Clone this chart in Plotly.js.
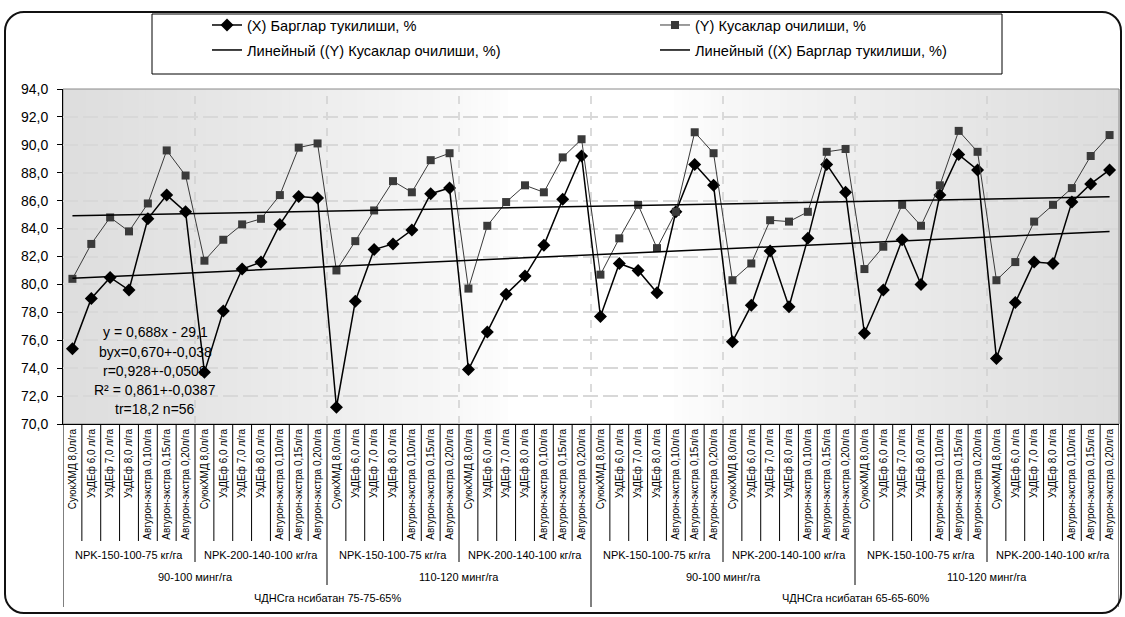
<!DOCTYPE html>
<html>
<head>
<meta charset="utf-8">
<script src="https://cdn.plot.ly/plotly-3.0.1.min.js"></script>
<style>
  html, body { margin: 0; padding: 0; background: #fff; }
  #wrap { position: relative; width: 1125px; height: 617px; overflow: hidden; }
  #frame { position: absolute; left: 4px; top: 11px; width: 1118px; height: 603px;
           box-sizing: border-box; border: 2px solid #111; border-radius: 20px; }
  #chart { position: absolute; left: 0; top: 0; width: 1125px; height: 617px; }
</style>
</head>
<body>
<div id="wrap">
  <div id="frame"></div>
  <div id="chart"></div>
</div>
<script>
// Treatments repeated inside every NPK block
const treatments = [
  'СуюкХМД 8,0л/га',
  'УзДЕф 6,0 л/га',
  'УзДЕф 7,0 л/га',
  'УзДЕф 8,0 л/га',
  'Авгурон-экстра 0,10л/га',
  'Авгурон-экстра 0,15л/га',
  'Авгурон-экстра 0,20л/га'
];
const npkLabels = [
  'NPK-150-100-75 кг/га', 'NPK-200-140-100 кг/га',
  'NPK-150-100-75 кг/га', 'NPK-200-140-100 кг/га',
  'NPK-150-100-75 кг/га', 'NPK-200-140-100 кг/га',
  'NPK-150-100-75 кг/га', 'NPK-200-140-100 кг/га'
];
const densityLabels = ['90-100 минг/га', '110-120 минг/га', '90-100 минг/га', '110-120 минг/га'];
const ratioLabels = ['ЧДНСга нсибатан 75-75-65%', 'ЧДНСга нсибатан 65-65-60%'];

// (X) Барглар тукилиши, %
const leafFall = [
  75.4, 79.0, 80.5, 79.6, 84.7, 86.4, 85.2,
  73.7, 78.1, 81.1, 81.6, 84.3, 86.3, 86.2,
  71.2, 78.8, 82.5, 82.9, 83.9, 86.5, 86.9,
  73.9, 76.6, 79.3, 80.6, 82.8, 86.1, 89.2,
  77.7, 81.5, 81.0, 79.4, 85.2, 88.6, 87.1,
  75.9, 78.5, 82.4, 78.4, 83.3, 88.6, 86.6,
  76.5, 79.6, 83.2, 80.0, 86.4, 89.3, 88.2,
  74.7, 78.7, 81.6, 81.5, 85.9, 87.2, 88.2
];
// (Y) Кусаклар очилиши, %
const bollOpening = [
  80.4, 82.9, 84.8, 83.8, 85.8, 89.6, 87.8,
  81.7, 83.2, 84.3, 84.7, 86.4, 89.8, 90.1,
  81.0, 83.1, 85.3, 87.4, 86.6, 88.9, 89.4,
  79.7, 84.2, 85.9, 87.1, 86.6, 89.1, 90.4,
  80.7, 83.3, 85.7, 82.6, 85.2, 90.9, 89.4,
  80.3, 81.5, 84.6, 84.5, 85.2, 89.5, 89.7,
  81.1, 82.7, 85.7, 84.2, 87.1, 91.0, 89.5,
  80.3, 81.6, 84.5, 85.7, 86.9, 89.2, 90.7
];
const statLines = [
  'y = 0,688x - 29,1',
  'byx=0,670+-0,038',
  'r=0,928+-0,0508',
  'R² = 0,861+-0,0387',
  'tr=18,2 n=56'
];

const n = leafFall.length;
const idx = leafFall.map((_, i) => i);
const tickText = idx.map(i => treatments[i % treatments.length]);

// least-squares linear trend over the point index
function linearTrend(ys) {
  const m = ys.length;
  const mx = (m - 1) / 2;
  const my = ys.reduce((a, b) => a + b, 0) / m;
  let sxy = 0, sxx = 0;
  ys.forEach((y, i) => { sxy += (i - mx) * (y - my); sxx += (i - mx) * (i - mx); });
  const slope = sxy / sxx;
  const icpt = my - slope * mx;
  return { x: [0, m - 1], y: [icpt, icpt + slope * (m - 1)] };
}
const trendY = linearTrend(bollOpening);
const trendX = linearTrend(leafFall);

const FONT = 'Liberation Sans, Arial, sans-serif';
const NARROW = 'Liberation Sans Narrow, Arial Narrow, Liberation Sans, sans-serif';

const traces = [
  { x: idx, y: leafFall, type: 'scatter', mode: 'lines+markers',
    name: '(X) Барглар тукилиши, %', legend: 'legend', legendgroup: 'a',
    line: { color: '#000', width: 1.5 },
    marker: { symbol: 'diamond', size: 10, color: '#000' } },
  { x: idx, y: bollOpening, type: 'scatter', mode: 'lines+markers',
    name: '(Y) Кусаклар очилиши, %', legend: 'legend2', legendgroup: 'b',
    line: { color: '#3a3a3a', width: 1 },
    marker: { symbol: 'square', size: 8, color: '#3a3a3a' } },
  { x: trendY.x, y: trendY.y, type: 'scatter', mode: 'lines',
    name: 'Линейный ((Y) Кусаклар очилиши, %)', legend: 'legend', legendgroup: 'c',
    line: { color: '#000', width: 1.5 } },
  { x: trendX.x, y: trendX.y, type: 'scatter', mode: 'lines',
    name: 'Линейный ((X) Барглар тукилиши, %)', legend: 'legend2', legendgroup: 'd',
    line: { color: '#000', width: 1.5 } }
];

// plot area geometry in pixels
const M = { l: 63, r: 6, t: 89, b: 193 };
const plotH = 617 - M.t - M.b;
const plotW = 1125 - M.l - M.r;
const py = p => (617 - M.b - p) / plotH;   // pixel row -> paper y
const px = p => (p - M.l) / plotW;          // pixel column -> paper x

const shapes = [];
// grey - white - grey horizontal shading of the plot area
const STRIPS = 140;
for (let s = 0; s < STRIPS; s++) {
  const t = (s + 0.5) / STRIPS;
  const d = Math.abs(t - 0.5) * 2;
  const k = Math.min(1, Math.max(0, (d - 0.15) / 0.85));
  const c = Math.round(255 - 34 * Math.pow(k, 0.75));
  shapes.push({ type: 'rect', xref: 'paper', yref: 'paper',
    x0: s / STRIPS, x1: (s + 1) / STRIPS + 0.001, y0: 0, y1: 1,
    fillcolor: `rgb(${c},${c},${c})`, line: { width: 0 }, layer: 'below' });
}
// plot frame
shapes.push({ type: 'rect', xref: 'paper', yref: 'paper', x0: 0, x1: 1, y0: 0, y1: 1,
  line: { color: '#8a8a8a', width: 1 }, layer: 'below' });
// dashed separators between NPK blocks
for (let k = 7; k < n; k += 7) {
  shapes.push({ type: 'line', xref: 'x', yref: 'paper', x0: k - 0.5, x1: k - 0.5, y0: 0, y1: 1,
    line: { color: '#cfcfcf', width: 1.5, dash: '8px,8px' }, layer: 'below' });
}
// category table lines under the axis
for (let k = 0; k <= n; k++) {
  let bottom = 541;
  if (k % 7 === 0) bottom = 562;
  if (k % 14 === 0) bottom = 585;
  if (k % 28 === 0) bottom = 607;
  shapes.push({ type: 'line', xref: 'x', yref: 'paper', x0: k - 0.5, x1: k - 0.5,
    y0: 0, y1: py(bottom), line: { color: '#000', width: 1 } });
}
// legend frame
shapes.push({ type: 'rect', xref: 'paper', yref: 'paper',
  x0: px(152), x1: px(1002), y0: py(74), y1: py(14),
  line: { color: '#000', width: 1 }, fillcolor: '#fff', layer: 'below' });

const annotations = [];
statLines.forEach((t, i) => {
  annotations.push({ text: t, xref: 'paper', yref: 'paper', x: px(155), y: py(332.3 + i * 19.2),
    showarrow: false, xanchor: 'center', yanchor: 'middle',
    font: { family: FONT, size: 14, color: '#000' } });
});
npkLabels.forEach((t, i) => {
  annotations.push({ text: t, xref: 'x', yref: 'paper', x: i * 7 + 3, y: py(555),
    showarrow: false, xanchor: 'center', yanchor: 'middle',
    font: { family: FONT, size: 11, color: '#000' } });
});
densityLabels.forEach((t, i) => {
  annotations.push({ text: t, xref: 'x', yref: 'paper', x: i * 14 + 6.5, y: py(577),
    showarrow: false, xanchor: 'center', yanchor: 'middle',
    font: { family: FONT, size: 11, color: '#000' } });
});
ratioLabels.forEach((t, i) => {
  annotations.push({ text: t, xref: 'x', yref: 'paper', x: i * 28 + 13.5, y: py(598),
    showarrow: false, xanchor: 'center', yanchor: 'middle',
    font: { family: FONT, size: 11, color: '#000' } });
});

const legendStyle = {
  orientation: 'v', xanchor: 'left', yanchor: 'top', traceorder: 'grouped',
  tracegroupgap: 3, font: { family: FONT, size: 14.6, color: '#000' },
  bgcolor: 'rgba(0,0,0,0)', borderwidth: 0
};

const layout = {
  width: 1125, height: 617,
  margin: M,
  paper_bgcolor: 'rgba(0,0,0,0)',
  plot_bgcolor: 'rgba(0,0,0,0)',
  separators: ', ',
  font: { family: FONT, size: 13, color: '#000' },
  showlegend: true,
  legend: Object.assign({}, legendStyle, { x: px(207), y: py(9) }),
  legend2: Object.assign({}, legendStyle, { x: px(655), y: py(9) }),
  xaxis: {
    range: [-0.5, n - 0.5], tickmode: 'array', tickvals: idx, ticktext: tickText,
    tickangle: -90, showgrid: false, zeroline: false, ticks: '',
    showline: true, linecolor: '#000', linewidth: 1,
    tickfont: { family: NARROW, size: 10, color: '#000' }
  },
  yaxis: {
    range: [70, 94], tick0: 70, dtick: 2, tickformat: '.1f',
    showgrid: true, gridcolor: '#d8d8d8', gridwidth: 2, griddash: '15px,5px',
    zeroline: false, ticks: 'outside', ticklen: 5, tickcolor: '#000',
    ticklabelstandoff: 6,
    showline: true, linecolor: '#000', linewidth: 1,
    tickfont: { family: FONT, size: 14, color: '#000' }
  },
  shapes: shapes,
  annotations: annotations
};

Plotly.newPlot('chart', traces, layout, { displayModeBar: false, staticPlot: true });
</script>
</body>
</html>
